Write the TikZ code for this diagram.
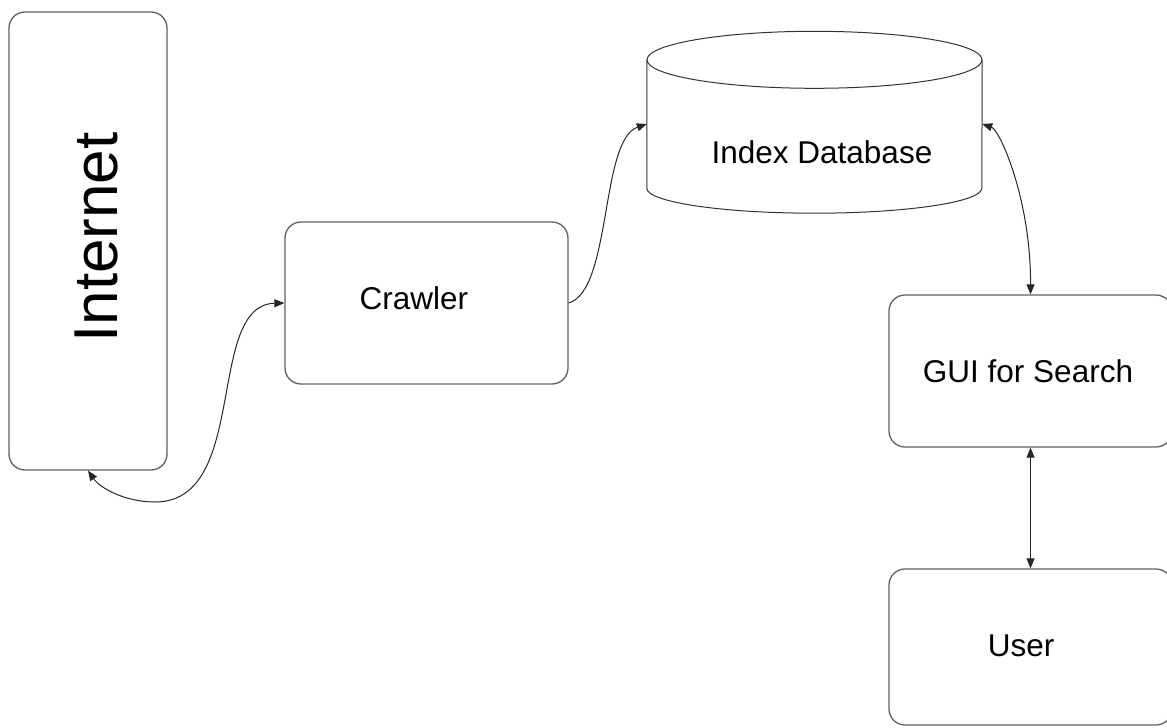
\documentclass[tikz,border=0pt]{standalone}
\usepackage{fontspec}
\setmainfont{Liberation Sans}
\usetikzlibrary{arrows.meta}
\begin{document}
\begin{tikzpicture}[x=1pt,y=-1pt,
  box/.style={draw=black!62, line width=1.3pt, rounded corners=16pt,
              inner sep=0pt, fill=white},
  lbl/.style={font=\fontsize{31.5}{36}\selectfont, anchor=base, inner sep=0pt},
  link/.style={draw=black!85, line width=1pt,
               {Triangle[length=10pt,width=8pt]}-{Triangle[length=10pt,width=8pt]}},
  onelink/.style={draw=black!85, line width=1pt,
               -{Triangle[length=10pt,width=8pt]}}]
\useasboundingbox (0,0) rectangle (1167,728);

% boxes
\node[box, minimum width=158pt, minimum height=458pt] (inet) at (88,241) {};
\node[box, minimum width=283pt, minimum height=162pt] (crawl) at (426.5,303) {};
\node[box, minimum width=283pt, minimum height=152pt] (gui) at (1030.5,371) {};
\node[box, minimum width=283pt, minimum height=156pt] (user) at (1030.5,647) {};

% index database cylinder
\node[inner sep=0pt, minimum width=335pt, minimum height=128pt] (db) at (814.5,124) {};
\draw[draw=black!80, line width=1pt]
  (db.north west) -- (db.south west)
  arc[start angle=180, end angle=360, x radius=167.5pt, y radius=25pt]
  -- (db.north east);
\draw[draw=black!80, line width=1pt] (db.north) ellipse (167.5pt and 28.5pt);

% labels
\node[lbl, font=\fontsize{62}{70}\selectfont, rotate=90] (inetlbl) at (117,237.5) {Internet};
\node[lbl] (crawllbl) at (414,309) {Crawler};
\node[lbl] (dblbl) at (822,163) {Index Database};
\node[lbl] (guilbl) at (1028,382) {GUI for Search};
\node[lbl] (userlbl) at (1021,656) {User};

% connectors
\draw[link] (inet.south) .. controls (100,488) and (125,502) .. (155,502)
  .. controls (250,502) and (205,305) .. (crawl.west);
\draw[onelink] (crawl.east) .. controls (612,290) and (600,140) .. (db.west);
\draw[link] (db.east) .. controls (1000,130) and (1031,200) .. (gui.north);
\draw[link] (gui.south) -- (user.north);
\end{tikzpicture}
\end{document}
